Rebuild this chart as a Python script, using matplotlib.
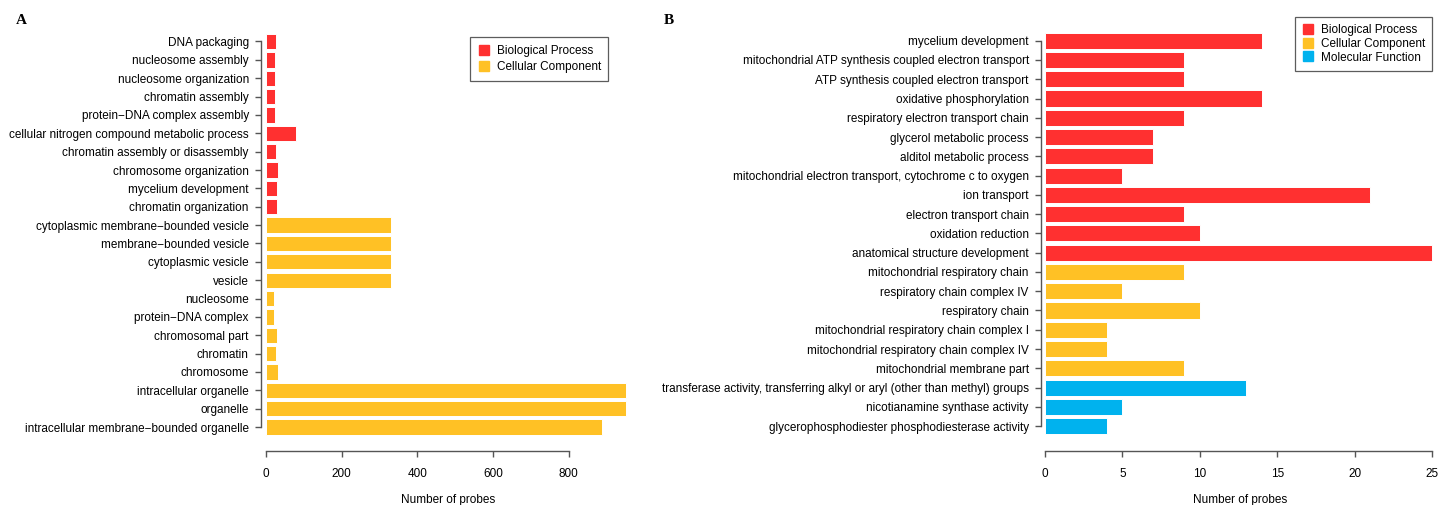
import matplotlib
matplotlib.use("Agg")
import matplotlib.pyplot as plt
from matplotlib.lines import Line2D

# ---- data -------------------------------------------------------------
terms_a = [
    "DNA packaging", "nucleosome assembly", "nucleosome organization",
    "chromatin assembly", "protein\u2212DNA complex assembly",
    "cellular nitrogen compound metabolic process",
    "chromatin assembly or disassembly", "chromosome organization",
    "mycelium development", "chromatin organization",
    "cytoplasmic membrane\u2212bounded vesicle", "membrane\u2212bounded vesicle",
    "cytoplasmic vesicle", "vesicle", "nucleosome", "protein\u2212DNA complex",
    "chromosomal part", "chromatin", "chromosome", "intracellular organelle",
    "organelle", "intracellular membrane\u2212bounded organelle",
]
counts_a = [27, 24, 24, 24, 24, 80, 27, 33, 28, 28,
            331, 331, 331, 331, 22, 22, 30, 27, 32, 950, 950, 887]
groups_a = ["BP"] * 10 + ["CC"] * 12

terms_b = [
    "mycelium development",
    "mitochondrial ATP synthesis coupled electron transport",
    "ATP synthesis coupled electron transport",
    "oxidative phosphorylation",
    "respiratory electron transport chain",
    "glycerol metabolic process",
    "alditol metabolic process",
    "mitochondrial electron transport, cytochrome c to oxygen",
    "ion transport",
    "electron transport chain",
    "oxidation reduction",
    "anatomical structure development",
    "mitochondrial respiratory chain",
    "respiratory chain complex IV",
    "respiratory chain",
    "mitochondrial respiratory chain complex I",
    "mitochondrial respiratory chain complex IV",
    "mitochondrial membrane part",
    "transferase activity, transferring alkyl or aryl (other than methyl) groups",
    "nicotianamine synthase activity",
    "glycerophosphodiester phosphodiesterase activity",
]
counts_b = [14, 9, 9, 14, 9, 7, 7, 5, 21, 9, 10, 25,
            9, 5, 10, 4, 4, 9, 13, 5, 4]
groups_b = ["BP"] * 12 + ["CC"] * 6 + ["MF"] * 3

group_names = {"BP": "Biological Process", "CC": "Cellular Component",
               "MF": "Molecular Function"}
group_colors = {"BP": "#FF3030", "CC": "#FFC125", "MF": "#00B2EE"}

xticks_a = [0, 200, 400, 600, 800]
xticks_b = [0, 5, 10, 15, 20, 25]

# ---- figure -----------------------------------------------------------
W, H = 1441, 505
fig = plt.figure(figsize=(W / 100, H / 100), dpi=100)
plt.rcParams["font.family"] = ["Liberation Sans", "DejaVu Sans"]
FS = 8.5
AXC = "#555555"


def px_axes(left, right, top, bottom):
    return fig.add_axes([left / W, 1 - bottom / H, (right - left) / W,
                         (bottom - top) / H])


def panel(ax, terms, counts, groups, xticks, x0, x1, y_first, step):
    n = len(terms)
    ypos = list(range(n))
    cols = [group_colors[g] for g in groups]
    ax.barh(ypos, counts, height=1 / 1.2, color=cols,
            edgecolor="white", linewidth=0.7)
    ax.set_xlim(x0, x1)
    ax_top_px, ax_bot_px = 30, 451
    ax.set_ylim((ax_bot_px - y_first) / step, (ax_top_px - y_first) / step)
    ax.set_yticks(ypos)
    ax.set_yticklabels(terms, fontsize=FS)
    ax.set_xticks(xticks)
    ax.set_xticklabels([str(t) for t in xticks], fontsize=FS)
    for s in ("top", "right"):
        ax.spines[s].set_visible(False)
    ax.spines["left"].set_bounds(0, n - 1)
    ax.spines["bottom"].set_bounds(xticks[0], xticks[-1])
    for s in ("left", "bottom"):
        ax.spines[s].set_color(AXC)
        ax.spines[s].set_linewidth(1.0)
    ax.tick_params(axis="y", length=4.3, width=1.0, color=AXC, pad=4.5)
    ax.tick_params(axis="x", length=4.5, width=1.0, color=AXC, pad=7.5)
    ax.patch.set_visible(False)


def legend(ax, keys, left_px, top_px, spacing, pad):
    handles = [Line2D([], [], marker="s", linestyle="none", markersize=6.5,
                      color=group_colors[k]) for k in keys]
    leg = ax.legend(handles, [group_names[k] for k in keys],
                    loc="upper left",
                    bbox_to_anchor=(left_px / W, 1 - top_px / H),
                    bbox_transform=fig.transFigure, frameon=True,
                    fancybox=False, edgecolor="#333333", fontsize=FS,
                    borderaxespad=0, handlelength=1.0, handletextpad=0.6,
                    labelspacing=spacing, borderpad=pad)
    leg.get_frame().set_linewidth(0.9)


# Panel A: 0 at x=266 px, 0.3785 px per probe
axA = px_axes(261, 640, 30, 451)
ppu_a = 0.3785
xa0 = -(266 - 261) / ppu_a
panel(axA, terms_a, counts_a, groups_a, xticks_a,
      xa0, xa0 + (640 - 261) / ppu_a, 41.5, 18.36)
legend(axA, ["BP", "CC"], 470, 37, 0.4, 0.65)

# Panel B: 0 at x=1045 px, 15.49 px per probe
axB = px_axes(1041, 1441, 30, 451)
ppu_b = 15.49
xb0 = -(1045 - 1041) / ppu_b
panel(axB, terms_b, counts_b, groups_b, xticks_b,
      xb0, xb0 + (1441 - 1041) / ppu_b, 40.7, 19.27)
legend(axB, ["BP", "CC", "MF"], 1295, 17, 0.15, 0.6)

fig.text(448 / W, 1 - 500 / H, "Number of probes", fontsize=FS,
         ha="center", va="center")
fig.text(1240 / W, 1 - 500 / H, "Number of probes", fontsize=FS,
         ha="center", va="center")

fig.text(21 / W, 1 - 21 / H, "A", fontsize=11, fontweight="bold",
         family="Liberation Serif", ha="center", va="center")
fig.text(669 / W, 1 - 20 / H, "B", fontsize=11, fontweight="bold",
         family="Liberation Serif", ha="center", va="center")

fig.savefig("out.png", dpi=100)
